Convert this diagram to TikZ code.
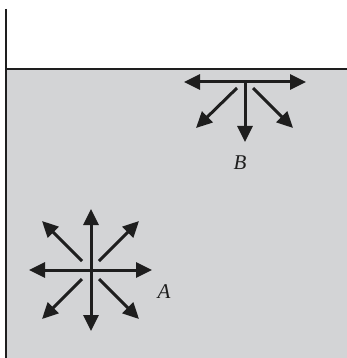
\documentclass[tikz,border=0pt]{standalone}
\usepackage{fontspec}
\setmainfont{Liberation Serif}
\usetikzlibrary{arrows.meta}
\definecolor{water}{RGB}{211,212,214}
\definecolor{ink}{RGB}{30,30,30}
\tikzset{
  wall/.style={line width=2.6pt, draw=ink},
  tipA/.tip={Triangle[length=16pt,width=15pt]},
  arr/.style={line width=3pt, draw=ink, -tipA},
  darr/.style={line width=3pt, draw=ink, tipA-tipA},
  lab/.style={font=\fontsize{21}{24}\selectfont\itshape, text=ink, inner sep=0pt}
}
\begin{document}
\begin{tikzpicture}[x=1pt,y=-1pt]
\useasboundingbox (0,0) rectangle (347,358);
\fill[water] (6,69) rectangle (347,358);
\coordinate (wt) at (6,9);
\coordinate (wb) at (6,358);
\coordinate (sl) at (6,69);
\coordinate (sr) at (347,69);
\draw[wall] (wt) -- (wb);
\draw[wall] (sl) -- (sr);
% B cluster
\coordinate (B) at (245,82);
\coordinate (Bl) at (184,82);
\coordinate (Br) at (306,82);
\coordinate (Bd) at (245,142);
\coordinate (Bs1) at (237,88);
\coordinate (Bt1) at (196,128);
\coordinate (Bs2) at (253,88);
\coordinate (Bt2) at (293,128);
\draw[darr] (Bl) -- (Br);
\draw[arr] (B) -- (Bd);
\draw[arr] (Bs1) -- (Bt1);
\draw[arr] (Bs2) -- (Bt2);
\node[lab] (labB) at (240,163) {B};
% A cluster
\coordinate (A) at (91,270);
\coordinate (Au) at (91,209);
\coordinate (Ad) at (91,331);
\coordinate (Al) at (29,270);
\coordinate (Ar) at (152,270);
\draw[arr] (A) -- (Au);
\draw[arr] (A) -- (Ad);
\draw[arr] (A) -- (Al);
\draw[arr] (A) -- (Ar);
\coordinate (As1) at (82,261);
\coordinate (At1) at (42,221);
\coordinate (As2) at (99,261);
\coordinate (At2) at (139,221);
\coordinate (As3) at (82,279);
\coordinate (At3) at (42,319);
\coordinate (As4) at (99,279);
\coordinate (At4) at (139,319);
\draw[arr] (As1) -- (At1);
\draw[arr] (As2) -- (At2);
\draw[arr] (As3) -- (At3);
\draw[arr] (As4) -- (At4);
\node[lab] (labA) at (164,292) {A};
\end{tikzpicture}
\end{document}
